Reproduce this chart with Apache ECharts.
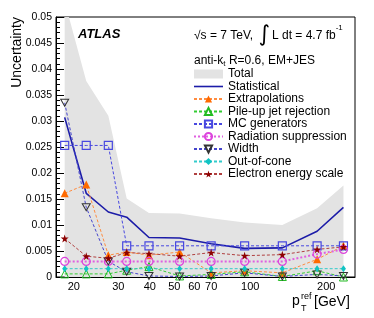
<!DOCTYPE html>
<html>
<head>
<meta charset="utf-8">
<script src="https://cdn.jsdelivr.net/npm/echarts@6/dist/echarts.min.js"></script>
<style>
html,body{margin:0;padding:0;background:#fff;}
#chart{width:374px;height:318px;}
</style>
</head>
<body>
<div id="chart"></div>
<script>
// ---- data ----
const ptRef = [18.4, 22.4, 27.4, 32.4, 39.7, 52.5, 70, 95, 134, 184, 234];
const total = [0.053, 0.0377, 0.031, 0.0151, 0.0123, 0.0122, 0.0113, 0.0105, 0.0100, 0.0132, 0.0176];
const statistical = [0.0307, 0.0161, 0.0125, 0.0115, 0.0076, 0.0075, 0.0064, 0.0055, 0.0056, 0.0088, 0.0134];
const extrapolations = [0.0161, 0.0178, 0.0042, 0.0048, 0.0042, 0.0048, 0.0008, 0.0012, 0.0008, 0.0034, 0.0060];
const pileup = [0.0006, 0.0006, 0.0006, 0.0013, 0.0020, 0.0002, 0.0005, 0.0010, 0.0001, 0.0012, 0.0000];
const mcGenerators = [0.0253, 0.0253, 0.0253, 0.0060, 0.0060, 0.0060, 0.0060, 0.0060, 0.0060, 0.0060, 0.0060];
const radiation = [0.0030, 0.0030, 0.0030, 0.0030, 0.0030, 0.0030, 0.0030, 0.0030, 0.0030, 0.0044, 0.0053];
const width = [0.0335, 0.0134, 0.0030, 0.0010, 0.0002, 0.0001, 0.0002, 0.0008, 0.0001, 0.0005, 0.0002];
const outOfCone = [0.0016, 0.0016, 0.0016, 0.0016, 0.0016, 0.0016, 0.0016, 0.0016, 0.0016, 0.0016, 0.0016];
const electron = [0.0074, 0.0040, 0.0036, 0.0047, 0.0045, 0.0040, 0.0047, 0.0041, 0.0043, 0.0053, 0.0058];
const xTickLabels = [20, 30, 40, 50, 60, 70, 100, 200];
const xTicks = [20, 30, 40, 50, 60, 70, 80, 90, 100, 200];
const xMin = 17, xMax = 260;

const pairs = arr => ptRef.map((x, i) => [x, arr[i]]);
const lg = v => Math.log10(v);

const FONT = '"Liberation Sans", Arial, sans-serif';
const downTri = 'path://M0,0 L10,0 L5,9 Z';
const star = 'path://M50,0 L61,35 L98,35 L68,57 L79,91 L50,70 L21,91 L32,57 L2,35 L39,35 Z';
const clear = 'rgba(0,0,0,0)';

function lineSeries(name, data, opts) {
  return Object.assign({
    name: name,
    type: 'line',
    xAxisIndex: 0,
    data: pairs(data),
    symbolSize: 7,
    clip: true,
    animation: false,
    z: 3
  }, opts);
}

const chart = echarts.init(document.getElementById('chart'), null, {renderer: 'canvas'});
chart.setOption({
  animation: false,
  grid: {left: 56, right: 19, top: 17, bottom: 41, show: true, borderColor: '#000', borderWidth: 1, backgroundColor: 'transparent'},
  xAxis: [
    {type: 'log', logBase: 10, min: xMin, max: xMax, show: false, position: 'bottom'},
    {type: 'value', min: lg(xMin), max: lg(xMax), position: 'bottom',
     axisLine: {show: true, onZero: false, lineStyle: {color: '#000', width: 1}},
     axisTick: {show: true, inside: true, length: 7, customValues: xTicks.map(lg), lineStyle: {color: '#000'}},
     axisLabel: {show: true, customValues: xTickLabels.map(lg), margin: 4, fontSize: 11, fontFamily: FONT, color: '#000',
       formatter: v => String(Math.round(Math.pow(10, v)))},
     splitLine: {show: false}}
  ],
  yAxis: {
    type: 'value', min: 0, max: 0.05, interval: 0.005,
    axisLine: {show: true, lineStyle: {color: '#000', width: 1}},
    axisTick: {show: true, inside: true, length: 8, lineStyle: {color: '#000'}},
    minorTick: {show: true, splitNumber: 5, length: 4, lineStyle: {color: '#000'}},
    axisLabel: {fontSize: 10.5, fontFamily: FONT, color: '#000', margin: 4},
    splitLine: {show: false}
  },
  legend: {
    orient: 'vertical', left: 193, top: 68, padding: 0, itemWidth: 29, itemHeight: 9, itemGap: 0.5,
    textStyle: {fontSize: 12, fontFamily: FONT, color: '#000', padding: [0, 0, 0, 0], lineHeight: 9},
    data: [
      {name: 'Total', icon: 'rect', itemStyle: {color: '#e3e3e3', borderWidth: 0}},
      {name: 'Statistical', icon: 'path://M0,0 L29,0 L29,1.6 L0,1.6 Z', itemStyle: {color: '#1c1ca8'}},
      'Extrapolations', 'Pile-up jet rejection', 'MC generators',
      'Radiation suppression', 'Width', 'Out-of-cone', 'Electron energy scale'
    ],
    selectedMode: false
  },
  series: [
    lineSeries('Total', total, {symbol: 'none', lineStyle: {width: 0, color: '#e3e3e3'}, itemStyle: {color: '#e3e3e3'},
      areaStyle: {color: '#e3e3e3', opacity: 1}, z: 1}),
    lineSeries('Statistical', statistical, {symbol: 'none', lineStyle: {width: 1.6, color: '#1c1ca8'}, itemStyle: {color: '#1c1ca8'}}),
    lineSeries('Extrapolations', extrapolations, {symbol: 'triangle', symbolSize: 8,
      lineStyle: {width: 1, type: [3, 2], color: '#ff8c40'}, itemStyle: {color: '#ff6a00'}}),
    lineSeries('Pile-up jet rejection', pileup, {symbol: 'triangle', symbolSize: 8,
      lineStyle: {width: 1, type: [3, 2], color: '#33cc33'}, itemStyle: {color: clear, borderColor: '#22bb22', borderWidth: 1}}),
    lineSeries('MC generators', mcGenerators, {symbol: 'rect', symbolSize: 8,
      lineStyle: {width: 1, type: [3, 2], color: '#4848e0'}, itemStyle: {color: clear, borderColor: '#4848e0', borderWidth: 1.2}}),
    lineSeries('Radiation suppression', radiation, {symbol: 'circle', symbolSize: 8,
      lineStyle: {width: 2, type: [2, 2], color: '#e060e0'}, itemStyle: {color: clear, borderColor: '#dd44dd', borderWidth: 1.2}}),
    lineSeries('Width', width, {symbol: downTri, symbolSize: [8, 7],
      lineStyle: {width: 1, type: [3, 2], color: '#4444cc'}, itemStyle: {color: clear, borderColor: '#333333', borderWidth: 1}}),
    lineSeries('Out-of-cone', outOfCone, {symbol: 'diamond', symbolSize: [5, 7],
      lineStyle: {width: 1, type: [3, 2], color: '#33cccc'}, itemStyle: {color: '#11c4c4'}}),
    lineSeries('Electron energy scale', electron, {symbol: star, symbolSize: 8,
      lineStyle: {width: 1, type: [3, 2], color: '#b04040'}, itemStyle: {color: '#8c0000'}})
  ],
  graphic: [
    {type: 'text', left: 78, top: 28, style: {text: 'ATLAS', font: 'italic bold 13px ' + FONT, fill: '#000'}},
    {type: 'text', left: 194, top: 24, style: {
      rich: {
        a: {fontSize: 12, fontFamily: FONT, fill: '#000', color: '#000'},
        i: {fontSize: 22, fontFamily: '"DejaVu Sans", sans-serif', color: '#000', padding: [0, 2, 2, 2]},
        s: {fontSize: 8, fontFamily: FONT, color: '#000', verticalAlign: 'top', padding: [0, 0, 8, 0]}
      },
      text: '{a|√s = 7 TeV,} {i|∫}{a|L dt = 4.7 fb}{s|-1}'
    }},
    {type: 'text', left: 194, top: 55, style: {
      rich: {
        a: {fontSize: 12, fontFamily: FONT, color: '#000'},
        b: {fontSize: 8, fontFamily: FONT, color: '#000', padding: [6, 0, 0, 0]}
      },
      text: '{a|anti-k}{b|t}{a| R=0.6, EM+JES}'
    }},
    {type: 'text', x: 17, y: 17, rotation: Math.PI / 2, style: {text: 'Uncertainty', font: '14px ' + FONT, fill: '#000', align: 'right', verticalAlign: 'middle'}},
    {type: 'text', left: 292, top: 294, style: {text: 'p', font: '14px ' + FONT, fill: '#000'}},
    {type: 'text', left: 301, top: 292, style: {text: 'ref', font: '9px ' + FONT, fill: '#000'}},
    {type: 'text', left: 301, top: 304, style: {text: 'T', font: '9px ' + FONT, fill: '#000'}},
    {type: 'text', left: 314, top: 295, style: {text: '[GeV]', font: '14px ' + FONT, fill: '#000'}}
  ]
});
</script>
</body>
</html>
